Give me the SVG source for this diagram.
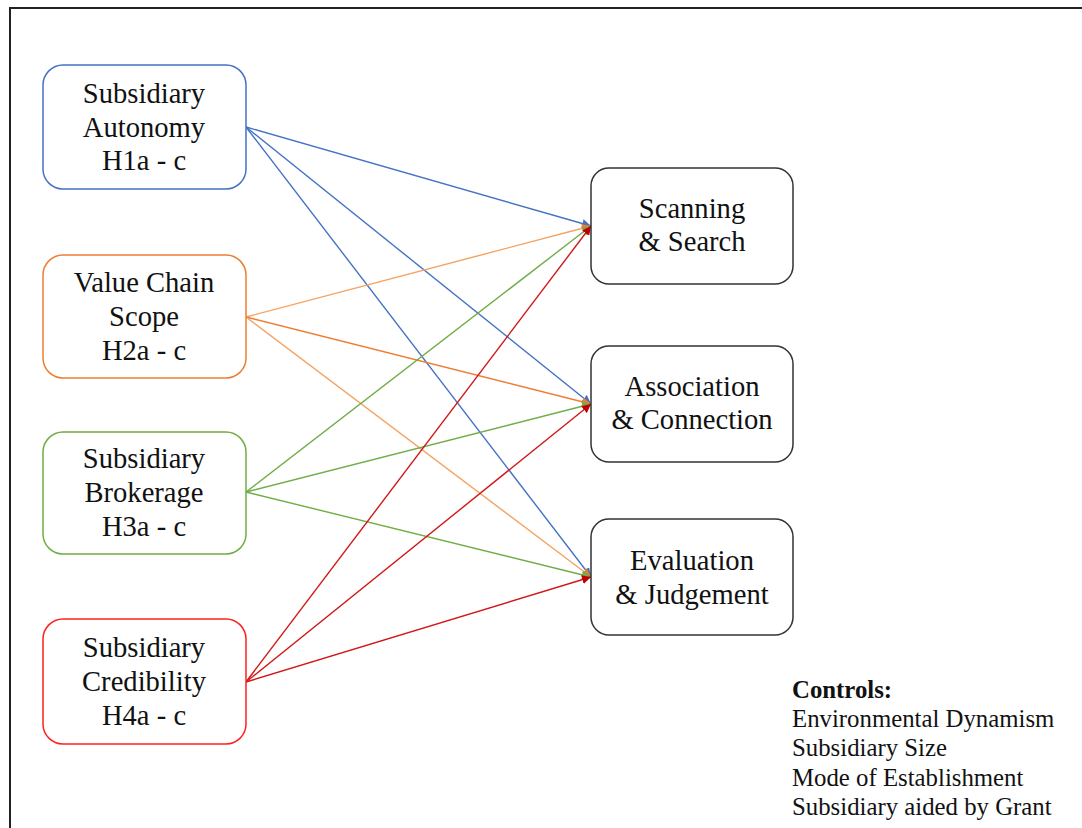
<svg xmlns="http://www.w3.org/2000/svg" width="1082" height="828" viewBox="0 0 1082 828">
<style>
text{font-family:"Liberation Serif","Times New Roman",serif;fill:#111;}
.t{font-size:28.6px;text-anchor:middle;}
.c{font-size:24.8px;}
.box{fill:#fff;stroke-width:1.5;}
.ln{fill:none;stroke-width:1.4;}
</style>
<defs>
<marker id="ab" viewBox="0 0 10 10" refX="10" refY="5" markerWidth="9" markerHeight="9" markerUnits="userSpaceOnUse" orient="auto"><path d="M0,0 L10,5 L0,10 z" fill="#4472C4"/></marker>
<marker id="ao" viewBox="0 0 10 10" refX="10" refY="5" markerWidth="9" markerHeight="9" markerUnits="userSpaceOnUse" orient="auto"><path d="M0,0 L10,5 L0,10 z" fill="#ED7D31"/></marker>
<marker id="ag" viewBox="0 0 10 10" refX="10" refY="5" markerWidth="9" markerHeight="9" markerUnits="userSpaceOnUse" orient="auto"><path d="M0,0 L10,5 L0,10 z" fill="#70AD47"/></marker>
<marker id="ar" viewBox="0 0 10 10" refX="10" refY="5" markerWidth="9" markerHeight="9" markerUnits="userSpaceOnUse" orient="auto"><path d="M0,0 L10,5 L0,10 z" fill="#C00000"/></marker>
</defs>
<rect width="1082" height="828" fill="#fff"/>
<path d="M10,828 V8 H1082" fill="none" stroke="#222" stroke-width="2"/>
<g id="connectors">
<line class="ln" x1="246" y1="127" x2="591" y2="226" stroke="#4472C4" marker-end="url(#ab)"/>
<line class="ln" x1="246" y1="127" x2="591" y2="404" stroke="#4472C4" marker-end="url(#ab)"/>
<line class="ln" x1="246" y1="127" x2="591" y2="577" stroke="#4472C4" marker-end="url(#ab)"/>
<line class="ln" x1="246" y1="317" x2="591" y2="226" stroke="#F4A261" marker-end="url(#ao)"/>
<line class="ln" x1="246" y1="317" x2="591" y2="404" stroke="#ED7D31" marker-end="url(#ao)"/>
<line class="ln" x1="246" y1="317" x2="591" y2="577" stroke="#F4A261" marker-end="url(#ao)"/>
<line class="ln" x1="246" y1="492" x2="591" y2="226" stroke="#70AD47" marker-end="url(#ag)"/>
<line class="ln" x1="246" y1="492" x2="591" y2="404" stroke="#70AD47" marker-end="url(#ag)"/>
<line class="ln" x1="246" y1="492" x2="591" y2="577" stroke="#70AD47" marker-end="url(#ag)"/>
<line class="ln" x1="246" y1="682" x2="591" y2="226" stroke="#D01818" marker-end="url(#ar)"/>
<line class="ln" x1="246" y1="682" x2="591" y2="404" stroke="#D01818" marker-end="url(#ar)"/>
<line class="ln" x1="246" y1="682" x2="591" y2="577" stroke="#D01818" marker-end="url(#ar)"/>
</g>
<g id="autonomy">
<rect class="box" x="43" y="65" width="203" height="124" rx="20" stroke="#4472C4"/>
<text class="t" x="144" y="103">Subsidiary</text>
<text class="t" x="144" y="137">Autonomy</text>
<text class="t" x="144" y="170">H1a - c</text>
</g>
<g id="valuechain">
<rect class="box" x="43" y="255" width="203" height="123" rx="20" stroke="#ED7D31"/>
<text class="t" x="144" y="292">Value Chain</text>
<text class="t" x="144" y="326">Scope</text>
<text class="t" x="144" y="360">H2a - c</text>
</g>
<g id="brokerage">
<rect class="box" x="43" y="432" width="203" height="122" rx="20" stroke="#70AD47"/>
<text class="t" x="144" y="468">Subsidiary</text>
<text class="t" x="144" y="502">Brokerage</text>
<text class="t" x="144" y="536">H3a - c</text>
</g>
<g id="credibility">
<rect class="box" x="43" y="619" width="203" height="125" rx="20" stroke="#FF2020"/>
<text class="t" x="144" y="657">Subsidiary</text>
<text class="t" x="144" y="691">Credibility</text>
<text class="t" x="144" y="725">H4a - c</text>
</g>
<g id="scanning">
<rect class="box" x="591" y="168" width="202" height="116" rx="18" stroke="#333"/>
<text class="t" x="692" y="218">Scanning</text>
<text class="t" x="692" y="251">&amp; Search</text>
</g>
<g id="association">
<rect class="box" x="591" y="346" width="202" height="116" rx="18" stroke="#333"/>
<text class="t" x="692" y="396">Association</text>
<text class="t" x="692" y="429">&amp; Connection</text>
</g>
<g id="evaluation">
<rect class="box" x="591" y="519" width="202" height="116" rx="18" stroke="#333"/>
<text class="t" x="692" y="570">Evaluation</text>
<text class="t" x="692" y="604">&amp; Judgement</text>
</g>
<g id="controls">
<text class="c" x="792" y="698" font-weight="bold">Controls:</text>
<text class="c" x="792" y="727">Environmental Dynamism</text>
<text class="c" x="792" y="756">Subsidiary Size</text>
<text class="c" x="792" y="786">Mode of Establishment</text>
<text class="c" x="792" y="815">Subsidiary aided by Grant</text>
</g>
</svg>
